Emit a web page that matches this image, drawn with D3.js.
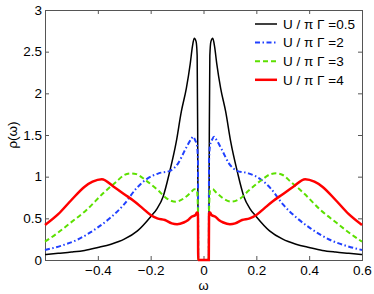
<!DOCTYPE html>
<html>
<head>
<meta charset="utf-8">
<script src="https://cdn.jsdelivr.net/npm/d3@7"></script>
<style>
  body { margin: 0; background: #fff; }
  text { font-family: "Liberation Sans", Arial, sans-serif; fill: #000; }
</style>
</head>
<body>
<svg width="374" height="294"></svg>
<script>
(function (d3) {
  'use strict'

  // values
  const omegaBlack = [-0.6, -0.55, -0.5, -0.45, -0.4, -0.35, -0.3, -0.25, -0.2, -0.175, -0.153, -0.128, -0.103, -0.084, -0.065, -0.05, -0.042, -0.035, -0.028, -0.024, -0.022, -0.02,
    0.02, 0.022, 0.024, 0.028, 0.035, 0.042, 0.05, 0.065, 0.084, 0.103, 0.128, 0.153, 0.175, 0.2, 0.25, 0.3, 0.35, 0.4, 0.45, 0.5, 0.55, 0.6]
  const rhoBlack = [0.065, 0.08, 0.095, 0.115, 0.15, 0.19, 0.25, 0.35, 0.52, 0.62, 0.76, 1.06, 1.42, 1.78, 2.06, 2.36, 2.56, 2.66, 2.62, 2.45, 1.5, 0,
    0, 1.5, 2.45, 2.62, 2.66, 2.56, 2.36, 2.06, 1.78, 1.42, 1.06, 0.76, 0.62, 0.52, 0.35, 0.25, 0.19, 0.15, 0.115, 0.095, 0.08, 0.065]

  const omegaBlue = [-0.6, -0.54, -0.48, -0.405, -0.355, -0.3, -0.254, -0.22, -0.17, -0.127, -0.096, -0.07, -0.045, -0.04, -0.032, -0.025, -0.021, -0.02,
    0.02, 0.021, 0.025, 0.032, 0.04, 0.045, 0.07, 0.096, 0.127, 0.17, 0.22, 0.254, 0.3, 0.355, 0.405, 0.48, 0.54, 0.6]
  const rhoBlue = [0.12, 0.17, 0.24, 0.38, 0.5, 0.67, 0.86, 0.96, 1.04, 1.07, 1.16, 1.32, 1.46, 1.48, 1.44, 1.38, 1.2, 0,
    0, 1.2, 1.38, 1.44, 1.48, 1.46, 1.32, 1.16, 1.07, 1.04, 0.96, 0.86, 0.67, 0.5, 0.38, 0.24, 0.17, 0.12]

  const omegaGreen = [-0.6, -0.55, -0.506, -0.443, -0.38, -0.33, -0.3, -0.275, -0.254, -0.22, -0.17, -0.14, -0.105, -0.07, -0.045, -0.035, -0.025, -0.021, -0.02,
    0.02, 0.021, 0.025, 0.035, 0.045, 0.07, 0.105, 0.14, 0.17, 0.22, 0.254, 0.275, 0.3, 0.33, 0.38, 0.443, 0.506, 0.55, 0.6]
  const rhoGreen = [0.22, 0.33, 0.44, 0.6, 0.8, 0.94, 1.02, 1.04, 1.03, 0.96, 0.83, 0.74, 0.7, 0.75, 0.82, 0.85, 0.84, 0.6, 0,
    0, 0.6, 0.84, 0.85, 0.82, 0.75, 0.7, 0.74, 0.83, 0.96, 1.03, 1.04, 1.02, 0.94, 0.8, 0.6, 0.44, 0.33, 0.22]

  const omegaRed = [-0.6, -0.55, -0.5, -0.45, -0.42, -0.385, -0.34, -0.3, -0.26, -0.23, -0.2, -0.175, -0.146, -0.12, -0.1, -0.075, -0.058, -0.045, -0.03, -0.025, -0.021, -0.02,
    0.02, 0.021, 0.025, 0.03, 0.045, 0.058, 0.075, 0.1, 0.12, 0.146, 0.175, 0.2, 0.23, 0.26, 0.3, 0.34, 0.385, 0.42, 0.45, 0.5, 0.55, 0.6]
  const rhoRed = [0.42, 0.55, 0.72, 0.88, 0.94, 0.97, 0.88, 0.79, 0.7, 0.62, 0.54, 0.5, 0.48, 0.44, 0.43, 0.45, 0.48, 0.52, 0.54, 0.57, 0.56, 0,
    0, 0.56, 0.57, 0.54, 0.52, 0.48, 0.45, 0.43, 0.44, 0.48, 0.5, 0.54, 0.62, 0.7, 0.79, 0.88, 0.97, 0.94, 0.88, 0.72, 0.55, 0.42]

  const legendLabels = ['U / π Γ =0.5', 'U / π Γ =2', 'U / π Γ =3', 'U / π Γ =4']
  const xTicks = [-0.4, -0.2, 0, 0.2, 0.4, 0.6]
  const yTicks = [0, 0.5, 1, 1.5, 2, 2.5, 3]

  const series = [
    { omega: omegaBlack, rho: rhoBlack, color: '#000', width: 1.5, dash: null },
    { omega: omegaBlue, rho: rhoBlue, color: '#2040ff', width: 2, dash: '5,2.5,1.5,2.5' },
    { omega: omegaGreen, rho: rhoGreen, color: '#5ce000', width: 2, dash: '5,3' },
    { omega: omegaRed, rho: rhoRed, color: '#ff0000', width: 2.5, dash: null }
  ]

  const left = 45, right = 362, top = 10, bottom = 260

  const x = d3.scaleLinear().domain([-0.6, 0.6]).range([left, right])
  const y = d3.scaleLinear().domain([0, 3]).range([bottom, top])

  const svg = d3.select('svg')

  const fmt = function (d) { return d < 0 ? '\u2212' + Math.abs(d) : String(d) }

  // axes, ticks pointing inward like matlab
  const gx = svg.append('g').attr('transform', 'translate(0,' + bottom + ')').
    call(d3.axisBottom(x).tickValues(xTicks).tickSize(-4).tickSizeOuter(0).tickPadding(5).tickFormat(fmt))
  svg.append('g').attr('transform', 'translate(0,' + top + ')').
    call(d3.axisTop(x).tickValues(xTicks).tickSize(-4).tickSizeOuter(0).tickFormat(''))
  const gy = svg.append('g').attr('transform', 'translate(' + left + ',0)').
    call(d3.axisLeft(y).tickValues(yTicks).tickSize(-4).tickSizeOuter(0).tickPadding(3).tickFormat(d3.format('')))
  svg.append('g').attr('transform', 'translate(' + right + ',0)').
    call(d3.axisRight(y).tickValues(yTicks).tickSize(-4).tickSizeOuter(0).tickFormat(''))

  svg.selectAll('.domain, .tick line').attr('stroke', '#555')
  gx.selectAll('text').attr('font-size', 13.5).attr('font-family', 'Liberation Sans, Arial, sans-serif')
  gy.selectAll('text').attr('font-size', 13.5).attr('font-family', 'Liberation Sans, Arial, sans-serif')

  svg.append('rect').
    attr('x', left + 0.5).attr('y', top + 0.5).
    attr('width', right - left).attr('height', bottom - top).
    attr('fill', 'none').attr('stroke', '#555')

  const line = d3.line().
    x(function (d) { return x(d[0]) }).
    y(function (d) { return y(d[1]) }).
    curve(d3.curveMonotoneX)

  svg.append('g').selectAll('path.curve').
    data(series).
    enter().
    append('path').
    attr('class', 'curve').
    attr('d', function (s) { return line(d3.zip(s.omega, s.rho)) }).
    attr('fill', 'none').
    attr('stroke', function (s) { return s.color }).
    attr('stroke-width', function (s) { return s.width }).
    attr('stroke-dasharray', function (s) { return s.dash })

  // legend
  const leg = svg.append('g').selectAll('g').
    data(series).
    enter().
    append('g').
    attr('transform', function (d, i) { return 'translate(255,' + (24 + 18.6 * i) + ')' })
  leg.append('line').
    attr('x1', 0).attr('x2', 22).
    attr('stroke', function (s) { return s.color }).
    attr('stroke-width', function (s) { return s.width }).
    attr('stroke-dasharray', function (s) { return s.dash })
  leg.append('text').
    attr('x', 28).attr('dy', '0.35em').
    attr('font-size', 13.5).
    text(function (d, i) { return legendLabels[i] })

  svg.append('text').
    attr('x', x(0)).attr('y', 290).
    attr('text-anchor', 'middle').attr('font-size', 13).
    text('ω')

  svg.append('text').
    attr('transform', 'translate(17,' + ((top + bottom) / 2) + ') rotate(-90)').
    attr('text-anchor', 'middle').attr('font-size', 13.5).
    text('ρ(ω)')
}(d3))
</script>
</body>
</html>
